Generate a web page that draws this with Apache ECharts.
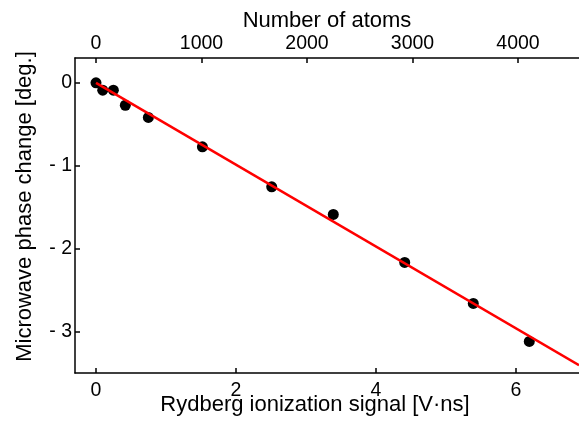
<!DOCTYPE html>
<html>
<head>
<meta charset="utf-8">
<script src="https://cdn.jsdelivr.net/npm/echarts@6/dist/echarts.min.js"></script>
<style>
html, body { margin: 0; padding: 0; background: #ffffff; }
#chart { width: 579px; height: 423px; }
</style>
</head>
<body>
<div id="chart"></div>
<script>
// Data
const signal = [0, 0.096, 0.248, 0.419, 0.748, 1.52, 2.51, 3.39, 4.41, 5.39, 6.19];
const phase = [0, -0.088, -0.088, -0.27, -0.417, -0.772, -1.254, -1.587, -2.166, -2.661, -3.119];
const fitSignal = [0, 6.9];
const fitPhase = [0, -3.405];
const signalTicks = [0, 2, 4, 6];
const phaseTicks = [0, -1, -2, -3];
const atomTicks = [0, 1000, 2000, 3000, 4000];
const atomsPerSignal = 663.5;
const signalRange = [-0.3, 6.9];
const phaseRange = [-3.5, 0.3];

const FONT = 'Liberation Sans, Arial, sans-serif';
const axisLineStyle = { color: '#000', width: 1.5 };

const scatterData = signal.map((s, i) => [s, phase[i]]);
const fitData = fitSignal.map((s, i) => [s, fitPhase[i]]);

const chart = echarts.init(document.getElementById('chart'), null, { renderer: 'canvas' });
chart.setOption({
  animation: false,
  backgroundColor: '#ffffff',
  textStyle: { fontFamily: FONT, color: '#000' },
  grid: { left: 75, top: 58, right: 0, bottom: 50, containLabel: false, outerBoundsMode: 'none' },
  xAxis: [
    {
      type: 'value',
      position: 'bottom',
      min: signalRange[0],
      max: signalRange[1],
      axisLine: { show: true, onZero: false, lineStyle: axisLineStyle },
      axisTick: { show: true, inside: true, length: 5, customValues: signalTicks, lineStyle: axisLineStyle },
      axisLabel: { show: true, customValues: signalTicks, margin: 8, fontSize: 19.5, color: '#000', fontFamily: FONT,
        formatter: v => String(v) },
      splitLine: { show: false },
      name: 'Rydberg ionization signal [V·ns]',
      nameLocation: 'middle',
      nameGap: 21,
      nameMoveOverlap: false,
      nameTextStyle: { fontSize: 22, color: '#000', fontFamily: FONT, padding: [0, 24, 0, 0] }
    },
    {
      type: 'value',
      position: 'top',
      min: signalRange[0] * atomsPerSignal,
      max: signalRange[1] * atomsPerSignal,
      axisLine: { show: true, onZero: false, lineStyle: axisLineStyle },
      axisTick: { show: true, inside: true, length: 5, customValues: atomTicks, lineStyle: axisLineStyle },
      axisLabel: { show: true, customValues: atomTicks, margin: 4, fontSize: 19.5, color: '#000', fontFamily: FONT,
        formatter: v => String(v) },
      splitLine: { show: false },
      name: 'Number of atoms',
      nameLocation: 'middle',
      nameGap: 26,
      nameMoveOverlap: false,
      nameTextStyle: { fontSize: 22, color: '#000', fontFamily: FONT }
    }
  ],
  yAxis: {
    type: 'value',
    min: phaseRange[0],
    max: phaseRange[1],
    axisLine: { show: true, onZero: false, lineStyle: axisLineStyle },
    axisTick: { show: true, inside: true, length: 5, customValues: phaseTicks, lineStyle: axisLineStyle },
    axisLabel: {
      show: true, customValues: phaseTicks, margin: 3, fontSize: 19.5, color: '#000', fontFamily: FONT,
      formatter: v => (v < 0 ? '- ' + (-v) : String(v))
    },
    splitLine: { show: false },
    name: 'Microwave phase change [deg.]',
    nameLocation: 'middle',
    nameGap: 39,
    nameMoveOverlap: false,
    nameTextStyle: { fontSize: 22, color: '#000', fontFamily: FONT, padding: [0, 0, 0, 18] }
  },
  series: [
    {
      type: 'scatter',
      xAxisIndex: 0,
      data: scatterData,
      symbol: 'circle',
      symbolSize: 11,
      itemStyle: { color: '#000', opacity: 1 },
      z: 2
    },
    {
      type: 'line',
      xAxisIndex: 0,
      data: fitData,
      showSymbol: false,
      symbol: 'none',
      lineStyle: { color: '#ff0000', width: 2.5 },
      z: 3
    }
  ]
});
</script>
</body>
</html>
